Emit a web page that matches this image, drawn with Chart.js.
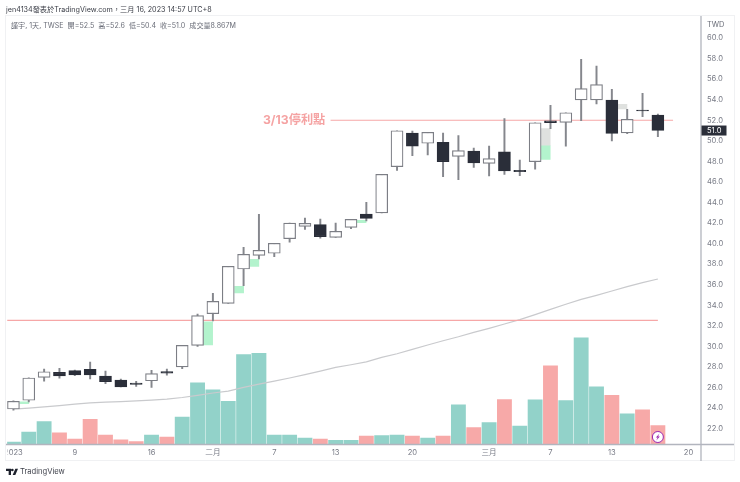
<!DOCTYPE html>
<html>
<head>
<meta charset="utf-8">
<script src="https://cdn.jsdelivr.net/npm/chart.js@4/dist/chart.umd.min.js"></script>
<style>
  html, body { margin: 0; background: #fff; }
  #wrap { position: relative; width: 740px; height: 482px; overflow: hidden;
          font-family: Inter, "Noto Sans CJK TC", sans-serif; }
  #wrap div { position: absolute; white-space: pre; }
  #publish { left: 6px; top: 3px; font-size: 7.2px; line-height: 13px; color: #3a3d46; }
  #legend { left: 11px; top: 19px; font-size: 7.1px; line-height: 13px; color: #6a6d78; }
  #note { left: 263px; top: 111px; font-size: 12.2px; line-height: 18px; font-weight: 700; color: #f5a3a3; }
  #brand { left: 20px; top: 464px; font-size: 7.6px; line-height: 15px; color: #40434d; }
  #unit { left: 707px; top: 17.5px; font-size: 7.4px; line-height: 13px; color: #6a6d78; }
  #logo { position: absolute; left: 6px; top: 467.5px; }
</style>
</head>
<body>
<div id="wrap">
  <canvas id="chart" width="740" height="482"></canvas>
  <div id="publish">jen4134發表於TradingView.com，三月 16, 2023 14:57 UTC+8</div>
  <div id="legend">謹宇, 1天, TWSE  開=52.5  高=52.6  低=50.4  收=51.0  成交量8.867M</div>
  <div id="note">3/13停利點</div>
  <div id="unit">TWD</div>
  <svg id="logo" width="12" height="8" viewBox="0 0 36 24"><path fill="#1e222d" d="M0 2h15v19H8V9H0zM28 21h-8l8-19h8zM19 2a4 4 0 1 1 0 8 4 4 0 0 1 0-8z"/></svg>
  <div id="brand">TradingView</div>
</div>
<script>
// daily bars
const opens = [23.91, 24.76, 26.99, 27.48, 27.64, 27.77, 27.12, 26.73, 26.44, 26.66, 27.55,
  28.0, 30.1, 33.18, 34.19, 37.53, 38.86, 39.06, 40.48, 41.68, 41.84, 40.61, 41.58, 42.88,
  42.98, 47.48, 50.76, 49.76, 49.85, 48.49, 49.01, 47.81, 48.94, 47.13, 47.97, 51.95, 51.8,
  53.97, 53.97, 53.97, 50.76, 53.0, 52.5];
const closes = [24.66, 26.93, 27.54, 27.12, 27.22, 27.22, 26.57, 26.05, 26.3, 27.35, 27.41,
  30.1, 33.0, 34.38, 37.79, 38.96, 39.35, 40.03, 42.0, 41.97, 40.67, 41.2, 42.36, 42.46,
  46.74, 50.98, 49.49, 50.83, 47.97, 49.04, 47.84, 48.26, 47.06, 47.0, 51.76, 51.76, 52.73,
  55.07, 55.46, 50.73, 52.09, 52.9, 51.0];
const highs = [24.7, 26.95, 27.8, 27.87, 27.7, 28.48, 27.6, 26.83, 26.6, 27.67, 27.8,
  30.1, 33.15, 35.16, 37.79, 39.64, 42.85, 40.03, 42.0, 42.49, 42.39, 42.0, 42.36, 44.02,
  46.74, 50.98, 50.95, 50.83, 50.76, 50.5, 49.3, 49.49, 52.15, 48.13, 51.76, 53.45, 52.73,
  57.93, 57.28, 55.0, 53.06, 54.62, 52.6];
const lows = [23.8, 24.6, 26.63, 26.9, 27.15, 26.83, 26.37, 26.05, 26.12, 26.02, 27.2,
  27.83, 30.0, 32.47, 34.19, 35.9, 38.5, 38.73, 40.13, 41.39, 40.52, 40.61, 41.45, 42.2,
  42.98, 47.13, 48.55, 48.62, 46.51, 46.22, 47.42, 46.58, 46.74, 46.6, 47.23, 51.18, 49.49,
  51.95, 53.6, 49.98, 50.7, 52.34, 50.4];
const volumes = [1.09, 5.75, 10.7, 5.44, 2.5, 11.8, 4.36, 2.18, 1.4, 4.36, 3.42,
  12.76, 28.8, 25.5, 20.2, 42.0, 42.6, 4.36, 4.36, 2.96, 2.5, 2.0, 2.0, 3.9,
  4.2, 4.36, 3.9, 2.96, 3.9, 18.5, 7.93, 10.27, 21.0, 8.56, 20.85, 36.7, 20.5,
  49.8, 26.9, 23.0, 14.3, 16.2, 8.867];
const volumeUp = [1, 1, 1, 0, 0, 0, 0, 0, 0, 1, 0,
  1, 1, 1, 1, 1, 1, 1, 1, 1, 0, 1, 1, 0,
  1, 1, 0, 1, 0, 1, 0, 1, 0, 1, 1, 0, 1,
  1, 1, 0, 1, 0, 0];
const maValues = [23.91, 24.0, 24.12, 24.24, 24.38, 24.5, 24.58, 24.64, 24.7, 24.77, 24.87,
  25.03, 25.24, 25.47, 25.66, 26.02, 26.34, 26.63, 26.93, 27.25, 27.6, 27.96, 28.22, 28.5,
  28.94, 29.29, 29.72, 30.14, 30.55, 30.94, 31.37, 31.76, 32.18, 32.6, 33.09, 33.61, 34.1,
  34.58, 34.97, 35.39, 35.81, 36.2, 36.56];

// shaded blocks beside some candles
const greenGapX = [0.71, 12.69, 14.71, 15.7, 22.69, 34.69];
const greenGapLow = [24.43, 30.14, 35.2, 37.79, 42.03, 48.2];
const greenGapHigh = [24.6, 32.4, 35.85, 38.47, 42.27, 49.52];
const greyGapX = [34.69, 39.69];
const greyGapLow = [49.52, 53.09];
const greyGapHigh = [51.2, 53.55];

// drawn horizontal levels: [value, first bar, last bar]
const targetLevel = [52.0, 20.67, 42.99];
const baseLevel = [32.54, -0.41, 42];

const lastPrice = 51.0;
const priceTicks = [22, 24, 26, 28, 30, 32, 34, 36, 38, 40, 42, 44, 46, 48, 50, 52, 54, 56, 58, 60];
const dateTicks = [0, 4, 9, 13, 17, 21, 26, 31, 35, 39, 44];
const dateLabels = ['2023', '9', '16', '二月', '7', '13', '20', '三月', '7', '13', '20'];

const FONT = 'Inter, "Noto Sans CJK TC", sans-serif';
const TICK = '#787b86';
const AXIS = '#b2b5be';
const DARK = '#2a2e39';
const WICK = '#85878d';

const bars = opens.map((o, i) => i);
const chrome = {
  id: 'chrome',
  afterDraw(chart) {
    const { ctx, scales: { x, y } } = chart;
    const bottom = y.bottom;
    ctx.save();
    // hide the part of the first date label that runs off the pane
    ctx.fillStyle = '#fff';
    ctx.fillRect(0, bottom + 1, 7.5, 16);
    // outer frame
    ctx.strokeStyle = '#f0f1f3';
    ctx.lineWidth = 1;
    ctx.strokeRect(5.5, 15.5, 729, 445);
    // axis lines carried past the scales
    ctx.strokeStyle = AXIS;
    ctx.lineWidth = 1.3;
    ctx.beginPath();
    ctx.moveTo(6, bottom); ctx.lineTo(734, bottom);
    ctx.moveTo(x.right, 16); ctx.lineTo(x.right, 461);
    ctx.stroke();
    // last price tag
    const tagY = y.getPixelForValue(lastPrice);
    ctx.fillStyle = DARK;
    ctx.fillRect(x.right + 0.5, tagY - 5, 25, 10);
    ctx.fillStyle = '#fff';
    ctx.font = '7.6px ' + FONT;
    ctx.textAlign = 'left';
    ctx.textBaseline = 'middle';
    ctx.fillText('51.0', 707, tagY + 0.5);
    // lightning badge on the last volume bar
    const bx = x.getPixelForValue(42);
    ctx.beginPath();
    ctx.arc(bx, 437, 5.5, 0, Math.PI * 2);
    ctx.fillStyle = '#fff';
    ctx.fill();
    ctx.strokeStyle = '#9c27b0';
    ctx.lineWidth = 1;
    ctx.stroke();
    ctx.fillStyle = '#9c27b0';
    ctx.beginPath();
    ctx.moveTo(bx + 1.6, 433.6); ctx.lineTo(bx - 2, 437.6); ctx.lineTo(bx - 0.2, 437.4);
    ctx.lineTo(bx - 1.6, 440.4); ctx.lineTo(bx + 2, 436.4); ctx.lineTo(bx + 0.2, 436.6);
    ctx.closePath();
    ctx.fill();
    ctx.restore();
  }
};

new Chart(document.getElementById('chart'), {
  data: {
    datasets: [
      {
        type: 'bar', label: 'volume', yAxisID: 'vol', order: 9, barThickness: 14.2,
        data: bars.map(i => ({ x: i, y: volumes[i] })),
        backgroundColor: bars.map(i => volumeUp[i] ? '#92d2c9' : '#f7a9a8')
      },
      {
        type: 'bar', label: 'green gap', order: 7, barThickness: 9,
        data: greenGapX.map((g, i) => ({ x: g, y: [greenGapLow[i], greenGapHigh[i]] })),
        backgroundColor: '#b3f3cd'
      },
      {
        type: 'bar', label: 'grey gap', order: 7, barThickness: 9,
        data: greyGapX.map((g, i) => ({ x: g, y: [greyGapLow[i], greyGapHigh[i]] })),
        backgroundColor: '#dfe1df'
      },
      {
        type: 'line', label: 'average', order: 6,
        data: bars.map(i => ({ x: i, y: maValues[i] })),
        borderColor: '#c9cacd', borderWidth: 1.2, pointRadius: 0, tension: 0
      },
      {
        type: 'line', label: 'target', order: 5,
        data: [{ x: targetLevel[1], y: targetLevel[0] }, { x: targetLevel[2], y: targetLevel[0] }],
        borderColor: '#f6a7a7', borderWidth: 1.2, pointRadius: 0
      },
      {
        type: 'line', label: 'base', order: 5,
        data: [{ x: baseLevel[1], y: baseLevel[0] }, { x: baseLevel[2], y: baseLevel[0] }],
        borderColor: '#f6a7a7', borderWidth: 1.2, pointRadius: 0
      },
      {
        type: 'bar', label: 'wick', order: 3, barThickness: 1.3,
        data: bars.map(i => ({ x: i, y: [lows[i], highs[i]] })),
        backgroundColor: WICK
      },
      {
        type: 'bar', label: 'body', order: 1, barThickness: 12, borderSkipped: false, borderWidth: 1.2,
        data: bars.map(i => ({ x: i, y: [opens[i], closes[i]] })),
        backgroundColor: bars.map(i => closes[i] > opens[i] ? '#ffffff' : DARK),
        borderColor: bars.map(i => closes[i] > opens[i] ? '#7c7e85' : DARK)
      }
    ]
  },
  options: {
    responsive: false,
    animation: false,
    events: [],
    layout: { padding: { left: 6, top: 16, right: 5, bottom: 21 } },
    datasets: { bar: { grouped: false } },
    plugins: { legend: { display: false }, tooltip: { enabled: false } },
    scales: {
      x: {
        type: 'linear',
        offset: false,
        min: -0.41,
        max: 44.81,
        grid: { display: false, drawTicks: false, offset: false },
        border: { display: false },
        afterFit(scale) { scale.height = 16.5; },
        afterBuildTicks(scale) { scale.ticks = dateTicks.map(v => ({ value: v })); },
        ticks: {
          autoSkip: false, maxRotation: 0, padding: 4, color: TICK,
          font: { family: FONT, size: 7.6 },
          callback: (v) => dateLabels[dateTicks.indexOf(v)]
        }
      },
      y: {
        position: 'right',
        min: 20.46,
        max: 62.14,
        grid: { display: false, drawTicks: false },
        border: { display: false },
        afterFit(scale) { scale.width = 34; },
        afterBuildTicks(scale) { scale.ticks = priceTicks.map(v => ({ value: v })); },
        ticks: {
          padding: 6, color: TICK,
          font: { family: FONT, size: 7.6 },
          callback: (v) => v.toFixed(1)
        }
      },
      vol: { display: false, min: 0, max: 200 }
    }
  },
  plugins: [chrome]
});
</script>
</body>
</html>
